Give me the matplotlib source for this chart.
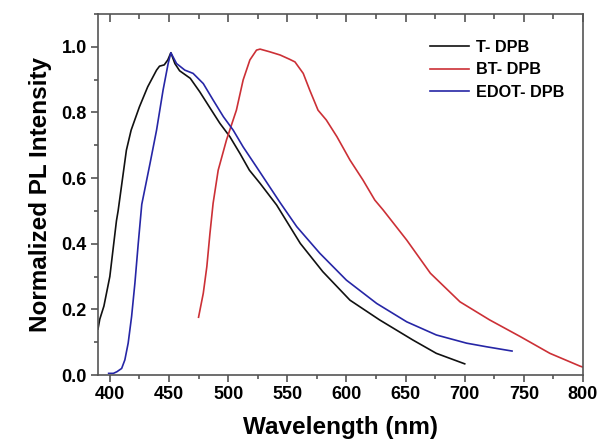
import numpy as np
import matplotlib
matplotlib.use('Agg')
import matplotlib.pyplot as plt
from matplotlib.ticker import MultipleLocator

##Data##
t_wl = [390, 391.5, 395, 400, 405.6, 407, 414, 418, 425, 432, 439.5, 442, 446, 449, 451.6, 455, 459,
        468, 476, 485, 493, 501.5, 510, 518, 527, 541, 561, 580, 603, 628, 656, 676, 700]
t_pl = [0.14, 0.17, 0.21, 0.30, 0.47, 0.50, 0.685, 0.746, 0.817, 0.878, 0.929, 0.941, 0.945, 0.96, 0.982,
        0.949, 0.927, 0.904, 0.863, 0.812, 0.767, 0.726, 0.675, 0.624, 0.584, 0.518, 0.401, 0.315, 0.228,
        0.168, 0.107, 0.066, 0.034]

bt_wl = [475, 479, 482, 484.6, 487.3, 491.6, 498.6, 507, 512.7, 518.4, 524, 527, 535, 544, 552, 556.5,
         563.5, 569, 576, 583, 592, 603, 614, 624, 631, 651, 671, 696, 721, 747, 772, 797.5, 800]
bt_pl = [0.176, 0.249, 0.33, 0.43, 0.523, 0.624, 0.716, 0.807, 0.899, 0.96, 0.99, 0.993, 0.985, 0.975,
         0.962, 0.954, 0.919, 0.868, 0.807, 0.777, 0.726, 0.655, 0.594, 0.533, 0.503, 0.411, 0.31, 0.223,
         0.168, 0.117, 0.066, 0.027, 0.024]

edot_wl = [399, 403, 406, 410, 412.7, 415.5, 418.4, 421.2, 424, 427, 434, 439.5, 445, 449.3, 451.6, 456.4,
           463.4, 470.4, 479, 487.3, 496, 504.3, 512.7, 524, 535, 544, 558, 577.5, 600, 625.6, 651, 676,
           701.6, 718.5, 740]
edot_pl = [0.005, 0.005, 0.01, 0.02, 0.046, 0.097, 0.178, 0.28, 0.40, 0.52, 0.645, 0.746, 0.868, 0.949,
           0.982, 0.949, 0.929, 0.919, 0.888, 0.838, 0.787, 0.746, 0.695, 0.634, 0.574, 0.525, 0.452, 0.371,
           0.289, 0.218, 0.162, 0.122, 0.097, 0.086, 0.073]

labels = ['T- DPB', 'BT- DPB', 'EDOT- DPB']
colors = ['#111111', '#cc3036', '#2626a6']

plt.rcParams['font.family'] = ['Liberation Sans', 'DejaVu Sans']
plt.rcParams['font.weight'] = 'bold'

fig = plt.figure(figsize=(5.98, 4.41), dpi=100)
ax = fig.add_axes([98/598, 66/441, 485/598, 361/441])

ax.plot(t_wl, t_pl, color=colors[0], lw=1.2, label=labels[0])
ax.plot(bt_wl, bt_pl, color=colors[1], lw=1.2, label=labels[1])
ax.plot(edot_wl, edot_pl, color=colors[2], lw=1.2, label=labels[2])

ax.set_xlim(390, 800)
ax.set_ylim(0, 1.1)
ax.xaxis.set_major_locator(MultipleLocator(50))
ax.xaxis.set_minor_locator(MultipleLocator(25))
ax.yaxis.set_major_locator(MultipleLocator(0.2))
ax.yaxis.set_minor_locator(MultipleLocator(0.1))
ax.yaxis.set_major_formatter(plt.FormatStrFormatter('%.1f'))

#spines are dark grey
for s in ax.spines.values():
    s.set_color('#555555')
    s.set_linewidth(1.2)

ax.tick_params(which='both', direction='out', color='#555555', width=1.2, labelsize=13, pad=3)
ax.tick_params(which='major', length=5)
ax.tick_params(which='minor', length=3)
#top ticks point inward, so draw them with a secondary axis
sec = ax.secondary_xaxis('top')
sec.xaxis.set_major_locator(MultipleLocator(50))
sec.xaxis.set_minor_locator(MultipleLocator(25))
sec.tick_params(which='both', direction='in', color='#555555', width=1.2, labeltop=False)
sec.tick_params(which='major', length=6)
sec.tick_params(which='minor', length=3.5)
sec.spines['top'].set_visible(False)
ax.tick_params(axis='x', which='both', top=False)

ax.set_xlabel('Wavelength (nm)', fontsize=17.5, fontweight='bold', labelpad=9)
ax.set_ylabel('Normalized PL Intensity', fontsize=17.5, fontweight='bold', labelpad=7)

ax.legend(loc='upper left', bbox_to_anchor=(430/598, 1 - 40/441), bbox_transform=fig.transFigure,
          frameon=False, fontsize=11.7, handlelength=2.4, handletextpad=0.4, labelspacing=0.45,
          borderpad=0, borderaxespad=0)

fig.savefig('out.png', dpi=100)
